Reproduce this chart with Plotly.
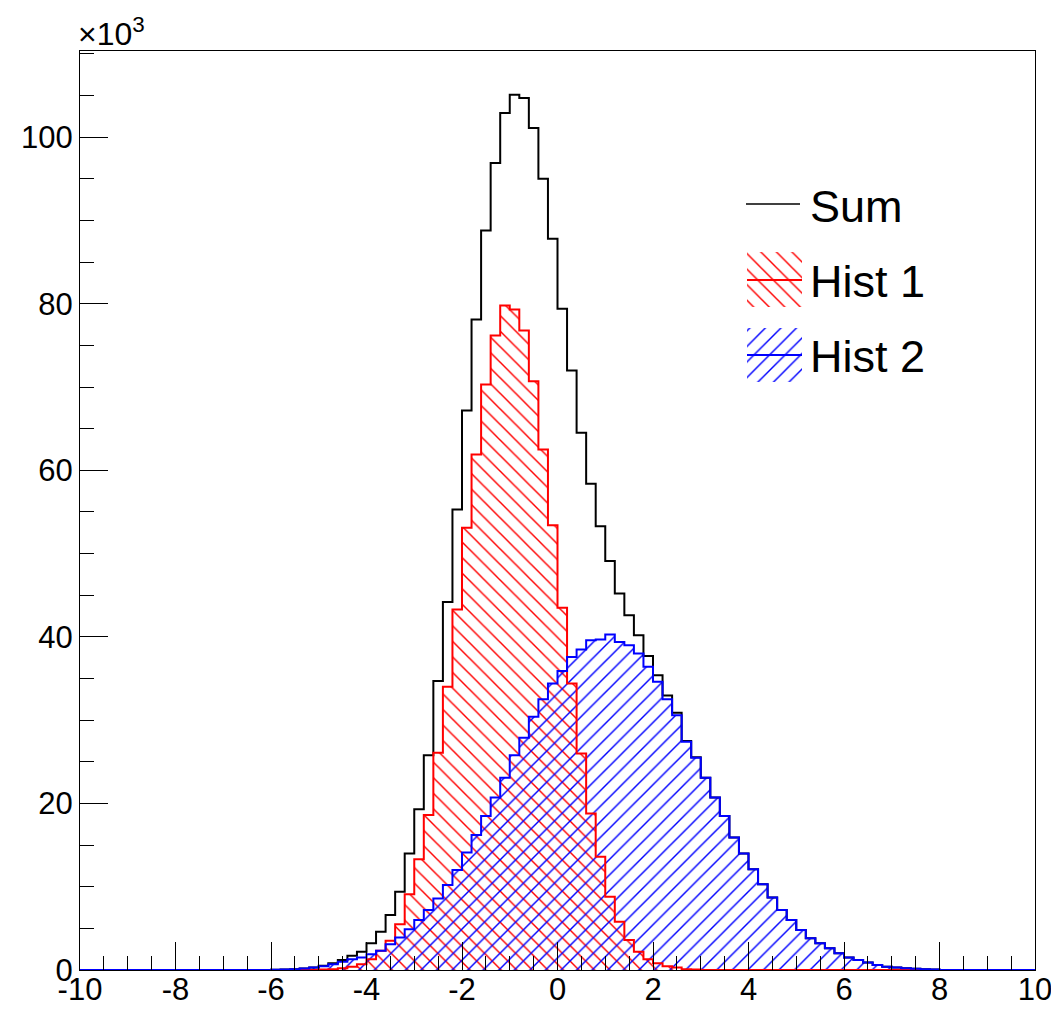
import plotly.graph_objects as go

# ---------------- data (counts in units of 10^3) ----------------
x_min, x_max, n_bins = -10.0, 10.0, 100

hist1_values = [
    0, 0, 0, 0, 0, 0, 0, 0, 0, 0,                              # -10 .. -8
    0, 0, 0, 0, 0, 0, 0, 0, 0, 0,                              # -8 .. -6
    0, 0, 0, 0, 0, 0.05, 0.1, 0.2, 0.4, 0.7,                   # -6 .. -4
    1.3, 2.3, 3.5, 5.5, 9.1, 13.3, 18.6, 26.1, 34.0, 43.3,     # -4 .. -2
    53.1, 61.9, 70.3, 76.2, 79.8, 79.3, 76.8, 70.7, 62.5, 53.4,  # -2 .. 0
    43.5, 34.4, 26.0, 18.8, 13.6, 8.8, 5.8, 3.6, 2.2, 1.3,     # 0 .. 2
    0.8, 0.45, 0.3, 0.1, 0.05, 0, 0, 0, 0, 0,                  # 2 .. 4
    0, 0, 0, 0, 0, 0, 0, 0, 0, 0,                              # 4 .. 6
    0, 0, 0, 0, 0, 0, 0, 0, 0, 0,                              # 6 .. 8
    0, 0, 0, 0, 0, 0, 0, 0, 0, 0,                              # 8 .. 10
]

hist2_values = [
    0, 0, 0, 0, 0, 0, 0, 0, 0, 0,                              # -10 .. -8
    0, 0, 0, 0, 0, 0, 0, 0, 0, 0,                              # -8 .. -6
    0.02, 0.05, 0.1, 0.18, 0.3, 0.45, 0.7, 1.0, 1.3, 1.5,      # -6 .. -4
    1.9, 2.3, 3.1, 3.9, 4.9, 6.0, 7.2, 8.6, 10.2, 12.0,        # -4 .. -2
    14.1, 16.2, 18.5, 20.7, 23.1, 25.8, 27.9, 30.4, 32.5, 34.4,  # -2 .. 0
    35.9, 37.6, 38.5, 39.6, 39.7, 40.3, 39.4, 39.0, 38.0, 36.4,  # 0 .. 2
    34.6, 32.5, 30.6, 27.4, 25.5, 23.1, 20.7, 18.5, 15.9, 14.0,  # 2 .. 4
    12.1, 10.3, 8.7, 7.2, 6.0, 4.8, 3.8, 3.2, 2.6, 2.0,        # 4 .. 6
    1.5, 1.2, 0.9, 0.6, 0.4, 0.3, 0.2, 0.15, 0.1, 0.05,        # 6 .. 8
    0, 0, 0, 0, 0, 0, 0, 0, 0, 0,                              # 8 .. 10
]

# the "Sum" histogram is the bin-by-bin sum of the two histograms
sum_values = [a + b for a, b in zip(hist1_values, hist2_values)]

x_tick_vals = [-10, -8, -6, -4, -2, 0, 2, 4, 6, 8, 10]
x_tick_text = ["-10", "-8", "-6", "-4", "-2", "0", "2", "4", "6", "8", "10"]
y_tick_vals = [0, 20, 40, 60, 80, 100]
y_tick_text = ["0", "20", "40", "60", "80", "100"]
legend_labels = ["Sum", "Hist 1", "Hist 2"]

# ---------------- helpers ----------------
bin_width = (x_max - x_min) / n_bins
edges = [x_min + i * bin_width for i in range(n_bins + 1)]
centers = [x_min + (i + 0.5) * bin_width for i in range(n_bins)]
y_max = max(sum_values) * 1.05

FONT = "Liberation Sans, Arial, Helvetica, sans-serif"

# page body has an 8px default margin -> figure is offset by 8px
OFF = 8
FIG_W, FIG_H = 1059 - OFF, 1011 - OFF
PL, PR, PT, PB = 80 - OFF, 1035 - OFF, 51 - OFF, 970 - OFF   # plot area in figure pixels

HATCH = dict(size=11, solidity=0.13, fgopacity=1, bgcolor="rgba(0,0,0,0)")


def step_xy(vals):
    return edges, list(vals) + [vals[-1]]


fig = go.Figure()

# hatched fills
fig.add_trace(go.Bar(
    x=centers, y=hist1_values, width=bin_width,
    marker=dict(color="rgba(0,0,0,0)", line=dict(width=0),
                pattern=dict(shape="\\", fgcolor="#ff0000", **HATCH)),
    hoverinfo="skip", showlegend=False,
))
fig.add_trace(go.Bar(
    x=centers, y=hist2_values, width=bin_width,
    marker=dict(color="rgba(0,0,0,0)", line=dict(width=0),
                pattern=dict(shape="/", fgcolor="#0000ff", **HATCH)),
    hoverinfo="skip", showlegend=False,
))

# outlines
for vals, col in [(sum_values, "#000000"), (hist1_values, "#ff0000"), (hist2_values, "#0000ff")]:
    sx, sy = step_xy(vals)
    fig.add_trace(go.Scatter(x=sx, y=sy, mode="lines", line=dict(color=col, width=2, shape="hv"),
                             hoverinfo="skip", showlegend=False))

# ---------------- custom ROOT-like legend (own hidden axes, page-pixel units) ----------------
L = dict(xaxis="x2", yaxis="y2", hoverinfo="skip", showlegend=False)
fig.add_trace(go.Scatter(x=[746, 800], y=[204, 204], mode="lines",
                         line=dict(color="black", width=1.5), **L))
for (top, bot, mid), shp, col in [((252, 307, 280), "\\", "#ff0000"), ((328, 382, 355), "/", "#0000ff")]:
    fig.add_trace(go.Scatter(x=[747, 802, 802, 747, 747], y=[top, top, bot, bot, top], mode="none",
                             fill="toself", fillcolor="rgba(0,0,0,0)",
                             fillpattern=dict(shape=shp, fgcolor=col, **HATCH), **L))
    fig.add_trace(go.Scatter(x=[747, 802], y=[mid, mid], mode="lines",
                             line=dict(color=col, width=2), **L))

annotations = []
for lab, yy in zip(legend_labels, [206, 281, 356]):
    annotations.append(dict(x=808, y=yy, xref="x2", yref="y2", text=lab, showarrow=False,
                            xanchor="left", yanchor="middle",
                            font=dict(family=FONT, size=45, color="black")))
annotations.append(dict(x=0, y=1, xref="paper", yref="paper", text="×10<sup>3</sup>",
                        showarrow=False, xanchor="left", yanchor="bottom", yshift=-3, xshift=-4,
                        font=dict(family=FONT, size=32, color="black")))

axis_common = dict(showgrid=False, zeroline=False, showline=True, linecolor="black", linewidth=1,
                   mirror=True, ticks="inside", ticklen=28, tickwidth=1, tickcolor="black",
                   tickfont=dict(family=FONT, size=31, color="black"), fixedrange=True)


def xdom(a, b):  # page pixels -> paper fraction
    return [(a - 80) / (1035 - 80), (b - 80) / (1035 - 80)]


def ydom(a, b):  # page pixels (a lower edge, b upper edge) -> paper fraction
    return [(970 - a) / (970 - 51), (970 - b) / (970 - 51)]


fig.update_layout(
    width=FIG_W, height=FIG_H,
    margin=dict(l=PL, r=FIG_W - PR, t=PT, b=FIG_H - PB, autoexpand=False),
    paper_bgcolor="white", plot_bgcolor="white",
    barmode="overlay", bargap=0, showlegend=False,
    font=dict(family=FONT, color="black"),
    xaxis=dict(range=[x_min, x_max], tickmode="array", tickvals=x_tick_vals, ticktext=x_tick_text,
               ticklabelstandoff=-8,
               minor=dict(ticks="inside", dtick=0.5, tick0=x_min, ticklen=14, tickwidth=1,
                          tickcolor="black"),
               **axis_common),
    yaxis=dict(range=[0, y_max], tickmode="array", tickvals=y_tick_vals, ticktext=y_tick_text,
               minor=dict(ticks="inside", dtick=5, tick0=0, ticklen=14, tickwidth=1,
                          tickcolor="black"),
               **axis_common),
    xaxis2=dict(domain=xdom(700, 1020), range=[700, 1020], visible=False,
                anchor="y2", fixedrange=True),
    yaxis2=dict(domain=ydom(400, 160), range=[400, 160], visible=False,
                anchor="x2", fixedrange=True),
    annotations=annotations,
)

fig.write_html("out.html")
